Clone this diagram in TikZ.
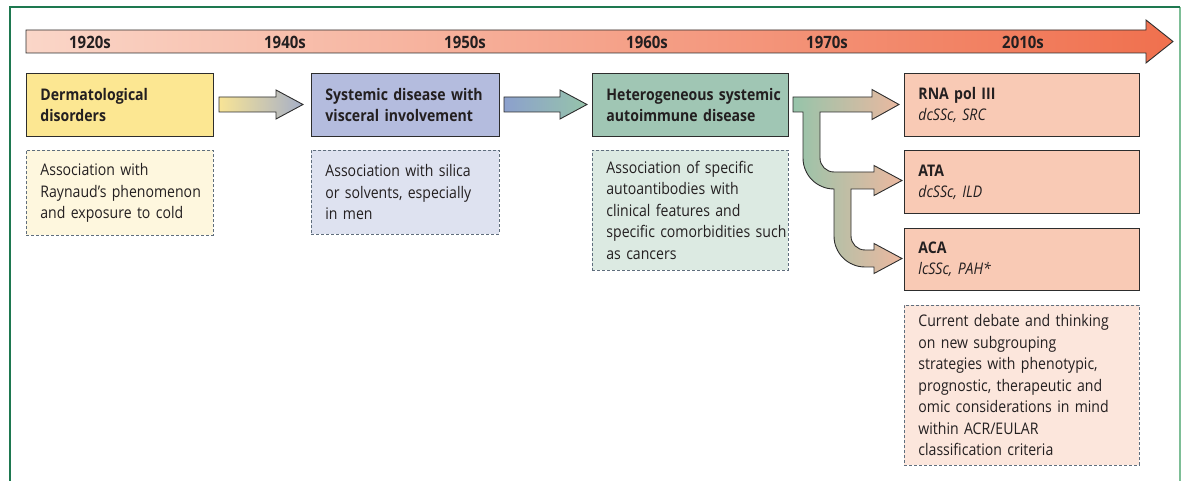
\documentclass[tikz,border=0pt]{standalone}
\usepackage{fontspec}
\setmainfont{Open Sans}[FakeStretch=0.88]
\usetikzlibrary{calc}
\definecolor{txt}{RGB}{35,31,32}
\definecolor{frameA}{RGB}{30,120,80}
\definecolor{frameB}{RGB}{125,190,150}
\definecolor{boxline}{RGB}{45,45,45}
\definecolor{dashline}{RGB}{95,110,125}
\definecolor{yel}{RGB}{252,231,146}
\definecolor{yelL}{RGB}{254,247,222}
\definecolor{lav}{RGB}{180,188,222}
\definecolor{lavL}{RGB}{222,226,240}
\definecolor{grn}{RGB}{160,198,180}
\definecolor{grnL}{RGB}{220,234,226}
\definecolor{sal}{RGB}{249,202,181}
\definecolor{salL}{RGB}{252,230,220}
\definecolor{tlL}{RGB}{250,214,200}
\definecolor{tlR}{RGB}{240,112,78}
\definecolor{arYel}{RGB}{248,228,150}
\definecolor{arSlate}{RGB}{165,175,200}
\definecolor{arBlue}{RGB}{140,160,205}
\definecolor{arGrn}{RGB}{150,196,170}
\definecolor{arSal}{RGB}{236,184,160}
\begin{document}
\begin{tikzpicture}[x=1pt,y=-1pt,
  every node/.style={text=txt},
  anybox/.style={anchor=north west, inner xsep=0pt, inner ysep=0pt, align=left,
    execute at begin node={\leftskip=14pt}},
  mainbox/.style={anybox, draw=boxline, line width=0.9pt,
    font=\fontsize{16}{21}\selectfont\bfseries},
  notebox/.style={anybox, draw=dashline, dash pattern=on 3pt off 2pt, line width=0.8pt,
    font=\fontsize{16}{21.5}\selectfont},
  blk/.style={draw=boxline, line width=0.9pt, line join=miter},
  year/.style={font=\fontsize{17}{17}\selectfont\bfseries, inner sep=0pt}
]
\useasboundingbox (0,0) rectangle (1184,481);
% frame
\draw[frameB, line width=2.5pt] (1180,7) -- (1180,481);
\draw[frameA, line width=1.2pt] (10,481) -- (10,7) -- (1180,7);
% timeline
\draw[blk, left color=tlL, right color=tlR] (26,30) -- (1146,30) -- (1146,20) -- (1173,41.5) -- (1146,63) -- (1146,53) -- (26,53) -- cycle;
\node[year] (y1) at (90,42) {1920s};
\node[year] (y2) at (285,42) {1940s};
\node[year] (y3) at (465,42) {1950s};
\node[year] (y4) at (647,42) {1960s};
\node[year] (y5) at (827,42) {1970s};
\node[year] (y6) at (1023,42) {2010s};
% main boxes
\node[mainbox, fill=yel, text width=187pt, minimum height=63pt] (b1) at (26,73) {Dermatological\\disorders};
\node[mainbox, fill=lav, text width=188pt, minimum height=63pt] (b2) at (311,73) {Systemic disease with\\visceral involvement};
\node[mainbox, fill=grn, text width=196pt, minimum height=63pt] (b3) at (592,73) {Heterogeneous systemic\\autoimmune disease};
\node[mainbox, fill=sal, text width=235pt, minimum height=63pt] (r1) at (904,73) {RNA pol III\\\mdseries\itshape dcSSc, SRC};
\node[mainbox, fill=sal, text width=235pt, minimum height=63pt] (r2) at (904,150) {ATA\\\mdseries\itshape dcSSc, ILD};
\node[mainbox, fill=sal, text width=235pt, minimum height=62pt] (r3) at (904,228) {ACA\\\mdseries\itshape lcSSc, PAH*};
% note boxes
\node[notebox, fill=yelL, text width=187pt, minimum height=85pt] (n1) at (26,150) {Association with\\Raynaud’s phenomenon\\and exposure to cold};
\node[notebox, fill=lavL, text width=188pt, minimum height=84pt] (n2) at (311,150) {Association with silica\\or solvents, especially\\in men};
\node[notebox, fill=grnL, text width=196pt, minimum height=120pt] (n3) at (592,150) {Association of specific\\autoantibodies with\\clinical features and\\specific comorbidities such\\as cancers};
\node[notebox, fill=salL, text width=235pt, minimum height=160pt] (n4) at (904,305) {Current debate and thinking\\on new subgrouping\\strategies with phenotypic,\\prognostic, therapeutic and\\omic considerations in mind\\within ACR/EULAR\\classification criteria};
% block arrows
\draw[blk, left color=arYel, right color=arSlate] (219,97) -- (276,97) -- (276,90) -- (303,104.5) -- (276,119) -- (276,112) -- (219,112) -- cycle;
\draw[blk, left color=arBlue, right color=arGrn] (504,97) -- (560,97) -- (560,90) -- (587,104.5) -- (560,119) -- (560,112) -- (504,112) -- cycle;
% branching arrow
\draw[blk, left color=arGrn, right color=arSal] (793,97) -- (872,97) -- (872,89.5) -- (899,104.5) -- (872,119.5) -- (872,112) -- (820,112) -- (820,158)
  .. controls (820,165.73) and (826.27,172) .. (834,172) -- (874,172) -- (874,165.5) -- (902,180.5) -- (874,195.5) -- (874,189) -- (851,189) -- (851,236)
  .. controls (851,243.73) and (857.27,250) .. (865,250) -- (874,250) -- (874,243.5) -- (902,258.5) -- (874,273.5) -- (874,267) -- (865,267)
  .. controls (847.88,267) and (834,253.12) .. (834,236) -- (834,189)
  .. controls (816.88,189) and (803,175.12) .. (803,158) -- (803,112) -- (793,112) -- cycle;
\end{tikzpicture}
\end{document}
